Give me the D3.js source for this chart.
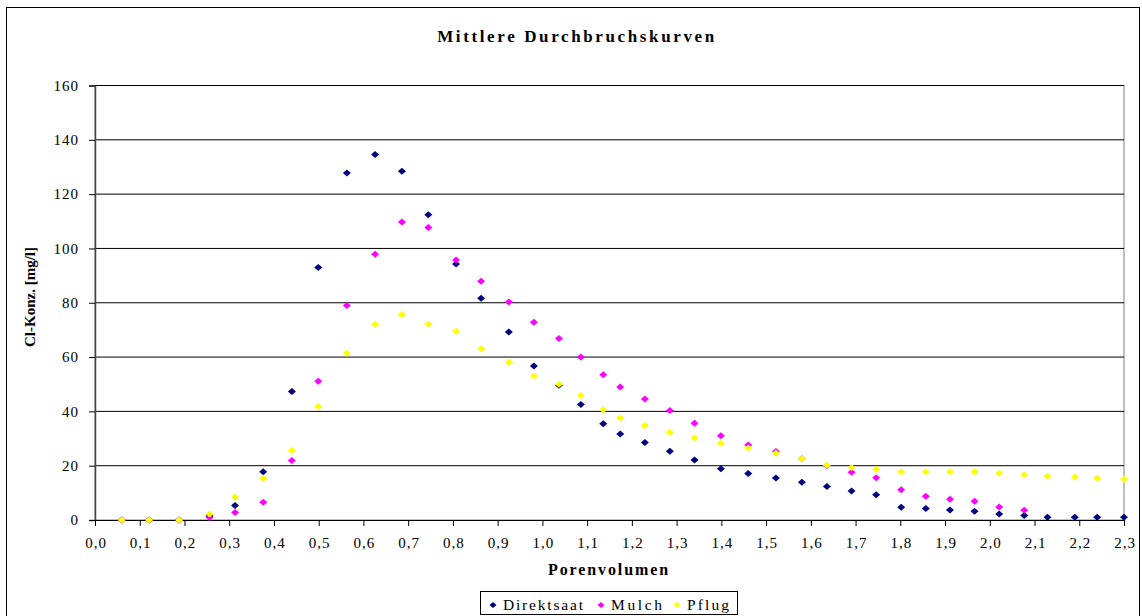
<!DOCTYPE html>
<html>
<head>
<meta charset="utf-8">
<script src="https://cdn.jsdelivr.net/npm/d3@7"></script>
<style>
  body { margin: 0; background: #fff; }
  svg text { font-family: "Liberation Serif", "Times New Roman", serif; fill: #000; }
</style>
</head>
<body>
<div id="chart"></div>
<script>
// Data
const porenvolumen = [0.06, 0.121, 0.188, 0.256, 0.313, 0.376, 0.44, 0.499, 0.563, 0.626,
    0.686, 0.745, 0.807, 0.863, 0.925, 0.981, 1.037, 1.086, 1.136, 1.174,
    1.229, 1.285, 1.34, 1.399, 1.46, 1.522, 1.58, 1.636, 1.691, 1.746,
    1.802, 1.857, 1.911, 1.966, 2.021, 2.077, 2.129, 2.19, 2.24, 2.3];

const direktsaat = [0, 0, 0, 1.5, 5.3, 17.8, 47.3, 93.0, 127.8, 134.6,
    128.4, 112.4, 94.3, 81.7, 69.2, 56.7, 49.6, 42.5, 35.4, 31.7,
    28.5, 25.3, 22.1, 18.9, 17.1, 15.5, 13.9, 12.3, 10.7, 9.3,
    4.7, 4.2, 3.7, 3.2, 2.2, 1.7, 1.0, 1.0, 1.0, 1.0];

const mulch = [0, 0, 0, 0.9, 2.8, 6.5, 21.9, 51.1, 79.0, 97.9,
    109.7, 107.7, 95.7, 87.9, 80.3, 72.8, 66.8, 60.0, 53.5, 49.0,
    44.6, 40.3, 35.6, 31.0, 27.6, 25.2, 22.6, 20.0, 17.6, 15.6,
    11.1, 8.7, 7.6, 6.9, 4.8, 3.6];

const pflug = [0, 0, 0, 2.2, 8.5, 15.4, 25.7, 41.8, 61.4, 72.1,
    75.7, 72.1, 69.5, 63.1, 58.1, 53.0, 50.0, 45.8, 40.6, 37.6,
    34.8, 32.3, 30.2, 28.3, 26.5, 24.6, 22.6, 20.2, 19.3, 18.7,
    17.8, 17.8, 17.8, 17.8, 17.2, 16.7, 16.2, 15.8, 15.4, 15.0];

const seriesNames = ["Direktsaat", "Mulch", "Pflug"];
const seriesColors = ["#000080", "#ff00ff", "#ffff00"];

const yTicks = [0, 20, 40, 60, 80, 100, 120, 140, 160];
const xTicks = [0, 0.1, 0.2, 0.3, 0.4, 0.5, 0.6, 0.7, 0.8, 0.9, 1.0, 1.1,
    1.2, 1.3, 1.4, 1.5, 1.6, 1.7, 1.8, 1.9, 2.0, 2.1, 2.2, 2.3];

const series = [direktsaat, mulch, pflug].map((vals, i) => ({
    name: seriesNames[i],
    color: seriesColors[i],
    points: vals.map((v, j) => ({ x: porenvolumen[j], y: v }))
}));

// Layout
const width = 1142;
const height = 616;
const plot = { left: 95, right: 1124, top: 85.5, bottom: 520 };

const svg = d3.select("#chart").append("svg")
    .attr("width", width)
    .attr("height", height);

// outer chart border
svg.append("rect")
    .attr("x", 6.5).attr("y", 7.5)
    .attr("width", 1133).attr("height", 620)
    .attr("fill", "none")
    .attr("stroke", "#000");

const x = d3.scaleLinear().domain([0, 2.3]).range([plot.left, plot.right]);
const y = d3.scaleLinear().domain([0, 160]).range([plot.bottom, plot.top]);

const de = d3.formatLocale({ decimal: ",", thousands: ".", grouping: [3], currency: ["", " €"] });
const fmt1 = de.format(".1f");

// plot area frame (right side gray)
svg.append("rect")
    .attr("x", plot.left).attr("y", plot.top)
    .attr("width", plot.right - plot.left).attr("height", plot.bottom - plot.top)
    .attr("fill", "none")
    .attr("stroke", "#808080");

// horizontal gridlines
svg.append("g")
    .selectAll("line")
    .data(yTicks.filter(d => d > 0))
    .enter()
    .append("line")
    .attr("x1", plot.left).attr("x2", plot.right)
    .attr("y1", d => y(d)).attr("y2", d => y(d))
    .attr("stroke", "#000")
    .attr("stroke-width", 1);

// y axis
const yAxis = svg.append("g")
    .attr("transform", `translate(${plot.left},0)`)
    .call(d3.axisLeft(y).tickValues(yTicks).tickSize(6).tickPadding(10).tickFormat(d3.format("d")));
yAxis.select(".domain").attr("stroke", "#444").attr("stroke-width", 1.5);
yAxis.selectAll(".tick line").attr("stroke", "#000");
yAxis.selectAll("text")
    .attr("font-size", 15)
    .attr("letter-spacing", 1)
    .attr("font-family", "Liberation Serif");

// x axis
const xAxis = svg.append("g")
    .attr("transform", `translate(0,${plot.bottom})`)
    .call(d3.axisBottom(x).tickValues(xTicks).tickSize(6).tickPadding(11).tickFormat(fmt1));
xAxis.select(".domain").attr("stroke", "#000");
xAxis.selectAll(".tick line").attr("stroke", "#000");
xAxis.selectAll("text")
    .attr("font-size", 15)
    .attr("letter-spacing", 1)
    .attr("dx", 0.5)
    .attr("font-family", "Liberation Serif");

// diamond marker path
function diamond(cx, cy, hw, hh) {
    return `M${cx},${cy - hh}L${cx + hw},${cy}L${cx},${cy + hh}L${cx - hw},${cy}Z`;
}

// points
series.forEach(s => {
    svg.append("g")
        .selectAll("path")
        .data(s.points)
        .enter()
        .append("path")
        .attr("d", d => diamond(x(d.x), y(d.y), 4, 3.5))
        .attr("fill", s.color);
});

// fit letter spacing to a target width
function fitSpacing(sel, target) {
    const n = sel.text().length;
    const w = sel.node().getComputedTextLength();
    sel.attr("letter-spacing", Math.max(0, (target - w) / (n - 1)));
}

// title
const title = svg.append("text")
    .attr("x", 577).attr("y", 42)
    .attr("text-anchor", "middle")
    .attr("font-size", 17)
    .attr("font-weight", "bold")
    .text("Mittlere Durchbruchskurven");
fitSpacing(title, 277);

// x axis title
const xTitle = svg.append("text")
    .attr("x", 609).attr("y", 575)
    .attr("text-anchor", "middle")
    .attr("font-size", 16)
    .attr("font-weight", "bold")
    .text("Porenvolumen");
fitSpacing(xTitle, 120);

// y axis title
const yTitle = svg.append("text")
    .attr("transform", "translate(35,297) rotate(-90)")
    .attr("text-anchor", "middle")
    .attr("font-size", 15)
    .attr("font-weight", "bold")
    .text("Cl-Konz. [mg/l]");
fitSpacing(yTitle, 97);

// legend
const legend = svg.append("g");
legend.append("rect")
    .attr("x", 480.5).attr("y", 591.5)
    .attr("width", 257).attr("height", 23)
    .attr("fill", "#fff")
    .attr("stroke", "#000");

const legendX = [493, 601, 677];
const legendW = [80, 51, 42];
series.forEach((s, i) => {
    legend.append("path")
        .attr("d", diamond(legendX[i], 605, 3.5, 3))
        .attr("fill", s.color);
    const t = legend.append("text")
        .attr("x", legendX[i] + 10).attr("y", 610)
        .attr("font-size", 15.5)
        .text(s.name);
    fitSpacing(t, legendW[i]);
});
</script>
</body>
</html>
